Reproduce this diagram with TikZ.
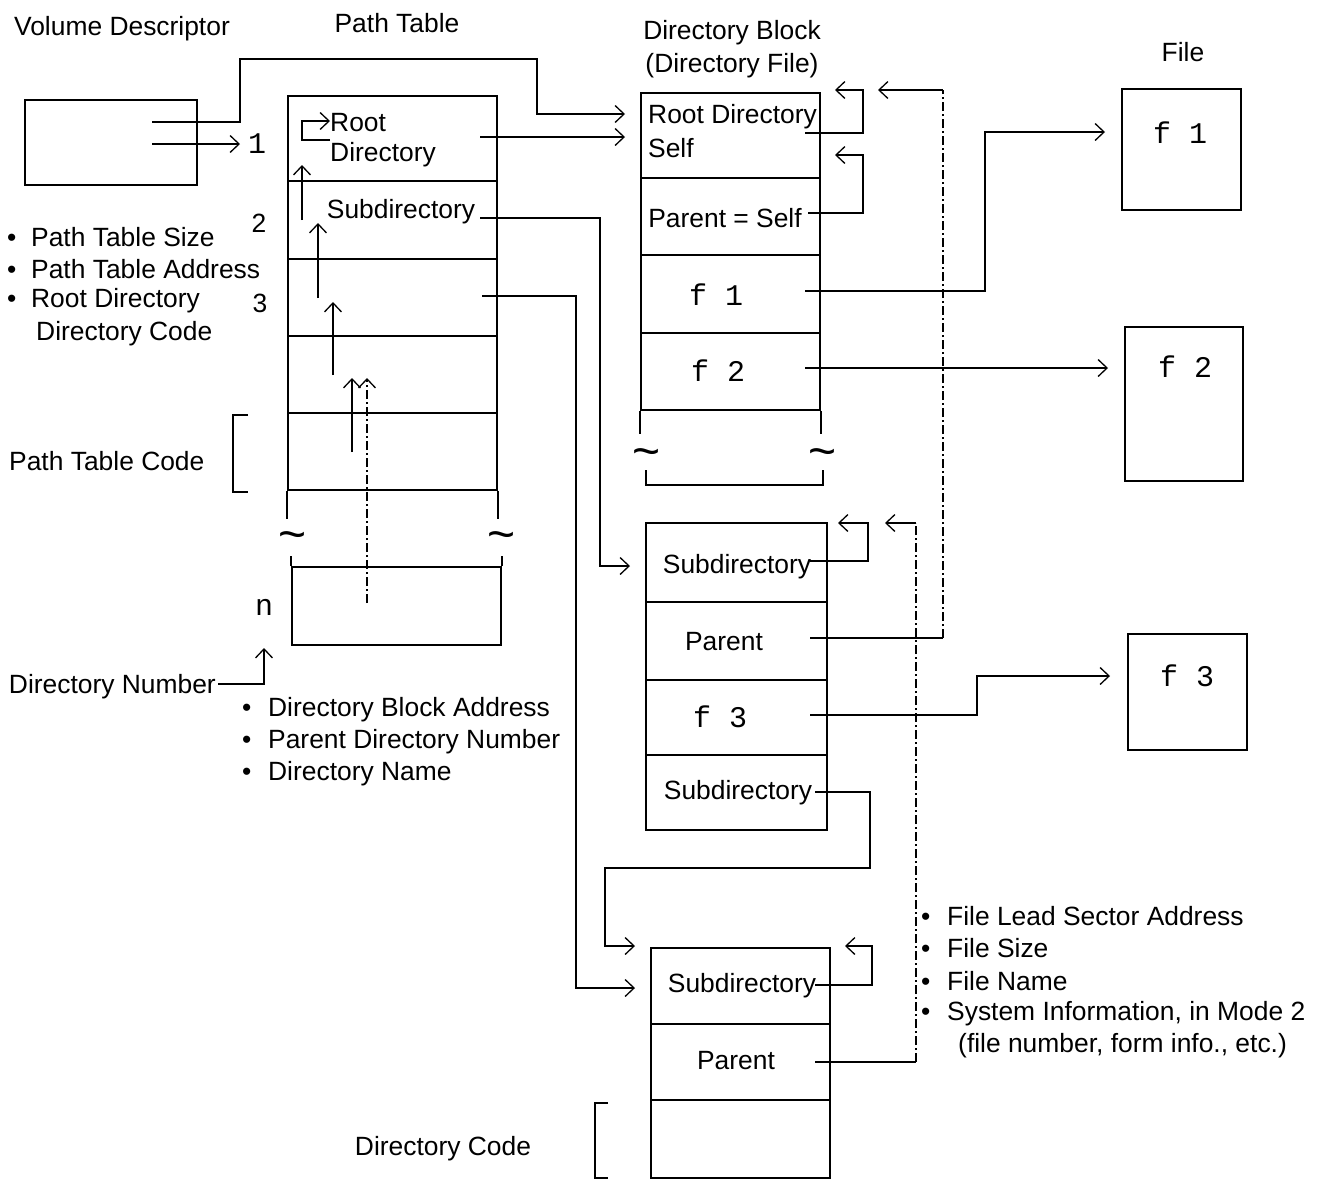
\documentclass[tikz,border=0pt]{standalone}
\usepackage{fontspec}
\setmainfont{Liberation Sans}
\newfontfamily\monof{Liberation Mono}
\usetikzlibrary{arrows.meta}
\begin{document}
\begin{tikzpicture}[x=1pt,y=-1pt,
  every node/.style={font=\fontsize{26.4}{32}\selectfont, inner sep=0pt},
  cellbox/.style={draw, line width=1.6pt, rectangle},
  mono/.style={font=\fontsize{30}{32}\selectfont\monof},
  tld/.style={font=\fontsize{48}{48}\selectfont},
  conn/.style={line width=1.3pt},
  arr/.style={conn, -{Straight Barb[length=9pt,width=17pt,line width=1.3pt]}},
  dashdot/.style={dash pattern=on 9pt off 3pt on 2pt off 3pt},
  wire/.style={line width=1.6pt}]
\useasboundingbox (0,0) rectangle (1321,1181);

% ---------- titles
\node (tVD) at (122,29) {Volume Descriptor};
\node (tPT) at (397,23) {Path Table};
\node (tDB) at (732,33) {Directory Block};
\node (tDF) at (732,66) {(Directory File)};
\node (tF) at (1183,52) {File};

% ---------- volume descriptor
\node[cellbox, minimum width=172pt, minimum height=85pt] (vd) at (111,142.5) {};
\node[mono] (one) at (257,144) {1};

% ---------- path table
\node[cellbox, minimum width=209pt, minimum height=85pt] (ptA) at (392.5,138.5) {};
\node[cellbox, minimum width=209pt, minimum height=78pt] (ptB) at (392.5,220) {};
\node[cellbox, minimum width=209pt, minimum height=77pt] (ptC) at (392.5,297.5) {};
\node[cellbox, minimum width=209pt, minimum height=77pt] (ptD) at (392.5,374.5) {};
\node[cellbox, minimum width=209pt, minimum height=77pt] (ptE) at (392.5,451.5) {};
\draw[wire] (ptE.south west) -- ++(0,28);
\draw[wire] (ptE.south east) -- ++(0,28);
\node[tld] (tl1) at (293,541) {\textasciitilde};
\node[tld] (tl2) at (502,541) {\textasciitilde};
\node[cellbox, minimum width=209pt, minimum height=78pt] (ptN) at (396.5,606) {};
\draw[wire] (ptN.north west) -- ++(0,-10);
\draw[wire] (ptN.north east) -- ++(0,-10);

\node[anchor=west] (tRoot) at (330,123) {Root};
\node[anchor=west] (tRootD) at (330,155) {Directory};
\node (tSubPT) at (401,212) {Subdirectory};
\node (two) at (259,223) {2};
\node (three) at (260,303) {3};
\node[mono] (enn) at (264,607) {n};

% left labels
\node[anchor=west] (b1) at (7,237) {\makebox[24pt][l]{\textbullet}Path Table Size};
\node[anchor=west] (b2) at (7,269) {\makebox[24pt][l]{\textbullet}Path Table Address};
\node[anchor=west] (b3) at (7,301) {\makebox[24pt][l]{\textbullet}Root Directory};
\node[anchor=west] (b4) at (36,334) {Directory Code};
\node[anchor=west] (tPTC) at (9,461) {Path Table Code};
\draw[wire] (248,415) -- (233,415) -- (233,492) -- (248,492);

\node[anchor=east] (tDN) at (216,687) {Directory Number};
\node[anchor=west] (c1) at (242,710) {\makebox[26pt][l]{\textbullet}Directory Block Address};
\node[anchor=west] (c2) at (242,742) {\makebox[26pt][l]{\textbullet}Parent Directory Number};
\node[anchor=west] (c3) at (242,774) {\makebox[26pt][l]{\textbullet}Directory Name};

% ---------- directory block 1
\node[cellbox, minimum width=179pt, minimum height=85pt] (dA) at (730.5,135.5) {};
\node[cellbox, minimum width=179pt, minimum height=77pt] (dB) at (730.5,216.5) {};
\node[cellbox, minimum width=179pt, minimum height=78pt] (dC) at (730.5,294) {};
\node[cellbox, minimum width=179pt, minimum height=77pt] (dD) at (730.5,371.5) {};
\draw[wire] (dD.south west) -- ++(0,23);
\draw[wire] (dD.south east) -- ++(0,23);
\node[tld] (tl3) at (647,458) {\textasciitilde};
\node[tld] (tl4) at (823,458) {\textasciitilde};
\draw[wire] (646,470) -- (646,485) -- (823,485) -- (823,470);
\node[anchor=west] (tRD) at (648,117) {Root Directory};
\node[anchor=west] (tSelf) at (648,148) {Self};
\node (tPS) at (725,218) {Parent = Self};
\node[mono] (tf1) at (716,295) {f 1};
\node[mono] (tf2) at (718,371) {f 2};

% ---------- directory block 2
\node[cellbox, minimum width=181pt, minimum height=79pt] (eA) at (736.5,562.5) {};
\node[cellbox, minimum width=181pt, minimum height=78pt] (eB) at (736.5,641) {};
\node[cellbox, minimum width=181pt, minimum height=75pt] (eC) at (736.5,717.5) {};
\node[cellbox, minimum width=181pt, minimum height=75pt] (eD) at (736.5,792.5) {};
\node (tS2) at (737,567) {Subdirectory};
\node (tP2) at (724,642) {Parent};
\node[mono] (tf3) at (720,717) {f 3};
\node (tS3) at (738,793) {Subdirectory};

% ---------- directory block 3
\node[cellbox, minimum width=179pt, minimum height=76pt] (gA) at (740.5,986) {};
\node[cellbox, minimum width=179pt, minimum height=76pt] (gB) at (740.5,1062) {};
\node[cellbox, minimum width=179pt, minimum height=78pt] (gC) at (740.5,1139) {};
\node (tS4) at (742,986) {Subdirectory};
\node (tP4) at (736,1061) {Parent};
\node (tDC) at (443,1149) {Directory Code};
\draw[wire] (608,1103) -- (595,1103) -- (595,1178) -- (608,1178);

% ---------- files
\node[cellbox, minimum width=119pt, minimum height=121pt] (F1) at (1181.5,149.5) {};
\node[cellbox, minimum width=118pt, minimum height=154pt] (F2) at (1184,404) {};
\node[cellbox, minimum width=119pt, minimum height=116pt] (F3) at (1187.5,692) {};
\node[mono] (tF1) at (1180,133) {f 1};
\node[mono] (tF2) at (1185,367) {f 2};
\node[mono] (tF3) at (1187,676) {f 3};

% right labels
\node[anchor=west] (r1) at (921,916) {\makebox[26pt][l]{\textbullet}File Lead Sector Address};
\node[anchor=west] (r2) at (921,948) {\makebox[26pt][l]{\textbullet}File Size};
\node[anchor=west] (r3) at (921,981) {\makebox[26pt][l]{\textbullet}File Name};
\node[anchor=west] (r4) at (921,1014) {\makebox[26pt][l]{\textbullet}System Information, in Mode 2};
\node[anchor=west] (r5) at (958,1046) {(file number, form info., etc.)};

% ---------- coordinates
\coordinate (vdO1) at (152,122);
\coordinate (vdO2) at (152,144);
\coordinate (vdI2) at (240,144);
\coordinate (dIn1) at (625,114);
\coordinate (ptO1) at (480,137);
\coordinate (dIn2) at (625,137);
\coordinate (rlS) at (330,140);
\coordinate (rlE) at (330,121);
\coordinate (ptO2) at (480,218);
\coordinate (eIn) at (630,566);
\coordinate (ptO3) at (482,296);
\coordinate (gIn2) at (635,988);
\coordinate (gIn1) at (635,946);
\coordinate (dAo) at (805,133);
\coordinate (dAi) at (835,90);
\coordinate (dBo) at (808,213);
\coordinate (dBi) at (835,155);
\coordinate (dCo) at (805,291);
\coordinate (F1i) at (1105,132);
\coordinate (dDo) at (805,368);
\coordinate (F2i) at (1108,368);
\coordinate (eBo) at (810,638);
\coordinate (dAr) at (878,90);
\coordinate (eAo) at (810,561);
\coordinate (eAi) at (838,523);
\coordinate (eAr) at (885,523);
\coordinate (eCo) at (810,715);
\coordinate (F3i) at (1110,676);
\coordinate (eDo) at (815,792);
\coordinate (gAo) at (815,985);
\coordinate (gAi) at (845,946);
\coordinate (gBo) at (815,1062);
\coordinate (dnS) at (218,684);
\coordinate (dnE) at (264,648);

% ---------- connectors
\draw[arr] (vdO1) -- (240,122) -- (240,59) -- (537,59) -- (537,114) -- (dIn1);
\draw[arr] (vdO2) -- (vdI2);
\draw[arr] (ptO1) -- (dIn2);
\draw[arr] (rlS) -- (302,140) -- (302,121) -- (rlE);
\draw[arr] (302,220) -- (302,165);
\draw[arr] (318,298) -- (318,223);
\draw[arr] (333,375) -- (333,302);
\draw[arr] (352,452) -- (352,378);
\draw[arr, dashdot] (367,603) -- (367,378);
\draw[arr] (ptO2) -- (600,218) -- (600,566) -- (eIn);
\draw[arr] (ptO3) -- (576,296) -- (576,988) -- (gIn2);
\draw[arr] (dAo) -- (863,133) -- (863,90) -- (dAi);
\draw[arr] (dBo) -- (863,213) -- (863,155) -- (dBi);
\draw[arr] (dCo) -- (985,291) -- (985,132) -- (F1i);
\draw[arr] (dDo) -- (F2i);
\draw[conn] (eBo) -- (943,638);
\draw[conn, dashdot] (943,638) -- (943,90);
\draw[arr] (943,90) -- (dAr);
\draw[arr] (eAo) -- (868,561) -- (868,523) -- (eAi);
\draw[arr] (eCo) -- (977,715) -- (977,676) -- (F3i);
\draw[arr] (eDo) -- (870,792) -- (870,868) -- (605,868) -- (605,946) -- (gIn1);
\draw[arr] (gAo) -- (872,985) -- (872,946) -- (gAi);
\draw[conn] (gBo) -- (916,1062);
\draw[conn, dashdot] (916,1062) -- (916,523);
\draw[arr] (916,523) -- (eAr);
\draw[arr] (dnS) -- (264,684) -- (dnE);
\end{tikzpicture}
\end{document}
